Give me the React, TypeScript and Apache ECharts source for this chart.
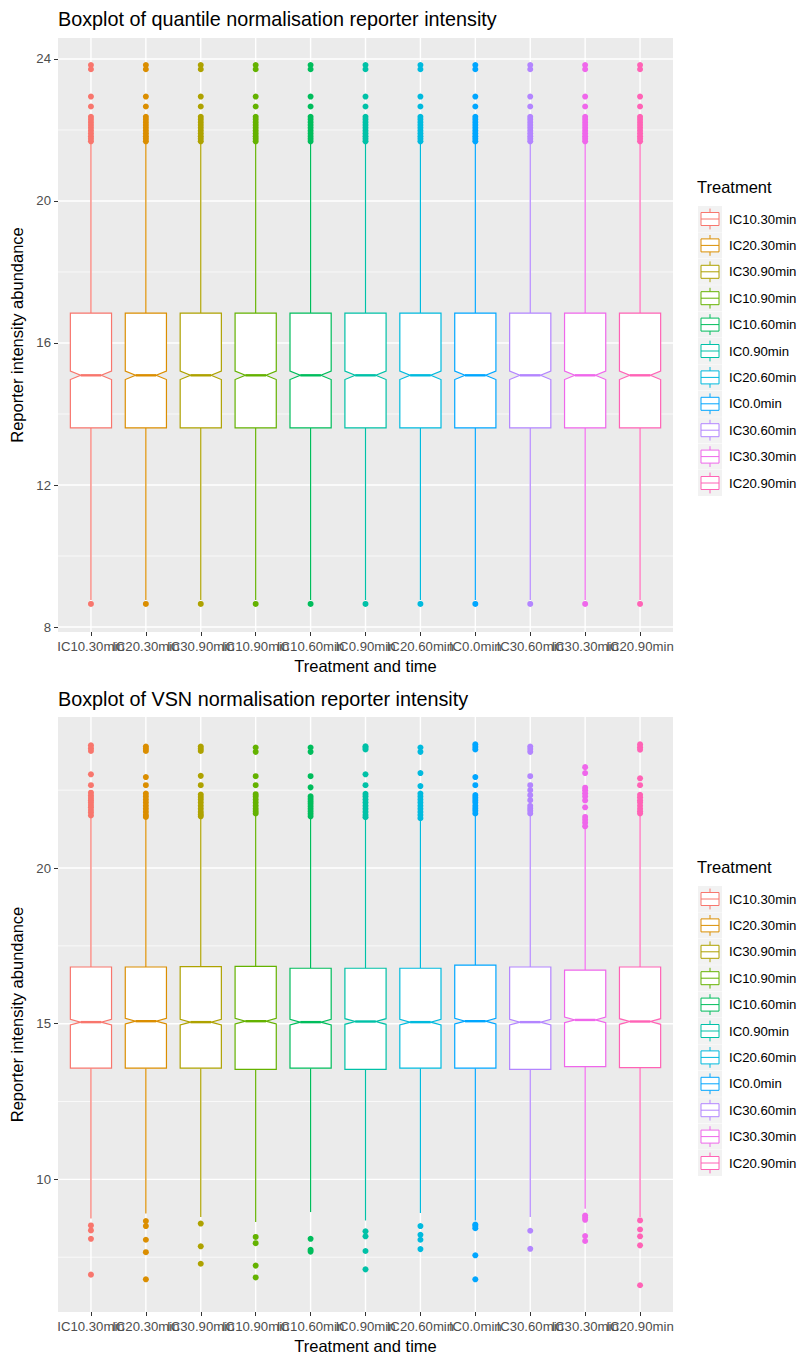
import React, { useEffect, useRef } from 'react';
import * as echarts from 'echarts';

const categories = ['IC10.30min', 'IC20.30min', 'IC30.90min', 'IC10.90min', 'IC10.60min', 'IC0.90min', 'IC20.60min', 'IC0.0min', 'IC30.60min', 'IC30.30min', 'IC20.90min'];
const colors = ['#F8766D', '#DB8E00', '#AEA200', '#64B200', '#00BD5C', '#00C1A7', '#00BADE', '#00A6FF', '#B385FF', '#EF67EB', '#FF63B6'];

// Quantile normalisation (top panel)
const qLowerWhisker = [8.76, 8.76, 8.76, 8.76, 8.76, 8.76, 8.76, 8.76, 8.76, 8.76, 8.76];
const qQ1 = [13.61, 13.61, 13.61, 13.61, 13.61, 13.61, 13.61, 13.61, 13.61, 13.61, 13.61];
const qMedian = [15.09, 15.09, 15.09, 15.09, 15.09, 15.09, 15.09, 15.09, 15.09, 15.09, 15.09];
const qQ3 = [16.84, 16.84, 16.84, 16.84, 16.84, 16.84, 16.84, 16.84, 16.84, 16.84, 16.84];
const qUpperWhisker = [21.66, 21.66, 21.66, 21.66, 21.66, 21.66, 21.66, 21.66, 21.66, 21.66, 21.66];
const qNotch = [0.12, 0.12, 0.12, 0.12, 0.12, 0.12, 0.12, 0.12, 0.12, 0.12, 0.12];
const qOutliers = [23.83, 23.71, 22.94, 22.66, 22.37, 22.3, 22.22, 22.14, 22.06, 21.98, 21.9, 21.82, 21.75, 21.68, 8.65];
const qYTicks = [8, 12, 16, 20, 24];
const qYMinor = [10, 14, 18, 22];

// VSN normalisation (bottom panel)
const vLowerWhisker = [8.74, 8.9, 8.79, 8.63, 8.95, 8.68, 8.92, 8.68, 8.79, 9.06, 8.79];
const vQ1 = [13.57, 13.57, 13.57, 13.53, 13.57, 13.53, 13.57, 13.57, 13.53, 13.62, 13.59];
const vMedian = [15.05, 15.08, 15.05, 15.08, 15.05, 15.07, 15.05, 15.08, 15.05, 15.12, 15.07];
const vQ3 = [16.82, 16.82, 16.83, 16.84, 16.78, 16.78, 16.78, 16.88, 16.82, 16.72, 16.82];
const vUpperWhisker = [21.65, 21.6, 21.62, 21.7, 21.62, 21.6, 21.57, 21.7, 21.7, 21.3, 21.7];
const vNotch = [0.09, 0.09, 0.09, 0.09, 0.09, 0.09, 0.09, 0.09, 0.09, 0.09, 0.09];
const vOutliers = [
  [23.94, 23.85, 23.76, 23.01, 22.66, 22.42, 22.33, 22.25, 22.18, 22.1, 22.02, 21.95, 21.86, 21.78, 21.69, 8.52, 8.36, 8.09, 6.94],
  [23.9, 23.83, 23.76, 22.92, 22.66, 22.39, 22.3, 22.2, 22.1, 22.0, 21.9, 21.8, 21.7, 21.64, 8.66, 8.5, 8.06, 7.66, 6.79],
  [23.9, 23.83, 23.76, 22.96, 22.66, 22.36, 22.28, 22.2, 22.1, 22.0, 21.9, 21.8, 21.72, 21.66, 8.58, 7.85, 7.29],
  [23.87, 23.73, 22.95, 22.66, 22.37, 22.3, 22.2, 22.1, 22.0, 21.9, 21.82, 21.75, 8.15, 7.95, 7.23, 6.85],
  [23.87, 23.73, 22.95, 22.59, 22.3, 22.22, 22.14, 22.06, 21.98, 21.9, 21.82, 21.74, 21.66, 8.09, 7.74, 7.68],
  [23.91, 23.86, 23.81, 23.01, 22.66, 22.38, 22.3, 22.2, 22.1, 22.0, 21.9, 21.8, 21.7, 21.63, 8.33, 8.17, 7.7, 7.11],
  [23.87, 23.73, 23.05, 22.63, 22.39, 22.3, 22.2, 22.1, 22.0, 21.9, 21.8, 21.7, 21.6, 8.5, 8.22, 8.06, 7.76],
  [23.97, 23.89, 23.81, 22.92, 22.66, 22.34, 22.26, 22.18, 22.1, 22.0, 21.92, 21.84, 21.75, 8.55, 8.5, 8.43, 7.56, 6.79],
  [23.9, 23.82, 23.73, 22.95, 22.66, 22.5, 22.34, 22.18, 22.0, 21.92, 21.84, 21.75, 8.35, 7.77],
  [23.24, 23.05, 22.58, 22.5, 22.4, 22.3, 22.17, 21.95, 21.64, 21.55, 21.45, 21.34, 8.84, 8.77, 8.7, 8.18, 8.02],
  [23.97, 23.88, 23.8, 22.88, 22.66, 22.35, 22.27, 22.18, 22.1, 22.0, 21.9, 21.82, 21.75, 8.68, 8.39, 8.17, 7.88, 6.6],
];
const vYTicks = [10, 15, 20];
const vYMinor = [7.5, 12.5, 17.5, 22.5];

const titles = ['Boxplot of quantile normalisation reporter intensity', 'Boxplot of VSN normalisation reporter intensity'];
const xTitle = 'Treatment and time';
const yTitle = 'Reporter intensity abundance';
const legendTitle = 'Treatment';

const FONT = 'Liberation Sans, Arial, sans-serif';

export default function App() {
  const ref = useRef<HTMLDivElement>(null);
  useEffect(() => {
    if (!ref.current) return;
    const chart = echarts.init(ref.current, undefined, { renderer: 'svg' });
    const xPos = categories.map((_, i) => i + 1);

    const panels = [
      { top: 38, height: 594, yMin: 7.86, yMax: 24.59, ticks: qYTicks, minor: qYMinor,
        low: qLowerWhisker, q1: qQ1, med: qMedian, q3: qQ3, high: qUpperWhisker, notch: qNotch,
        outliers: categories.map(() => qOutliers) },
      { top: 717, height: 595, yMin: 5.74, yMax: 24.85, ticks: vYTicks, minor: vYMinor,
        low: vLowerWhisker, q1: vQ1, med: vMedian, q3: vQ3, high: vUpperWhisker, notch: vNotch,
        outliers: vOutliers },
    ];

    const grid: any[] = [];
    const xAxis: any[] = [];
    const yAxis: any[] = [];
    const series: any[] = [];
    const title: any[] = [];
    const graphic: any[] = [];

    panels.forEach((p, gi) => {
      grid.push({ left: 58, top: p.top, width: 615, height: p.height, show: true, backgroundColor: '#EBEBEB', borderWidth: 0 });
      xAxis.push({
        gridIndex: gi, type: 'value', min: 0.4, max: 11.6,
        axisLine: { show: false, onZero: false },
        axisTick: { show: true, customValues: xPos, length: 4, lineStyle: { color: '#333333', width: 1 } },
        axisLabel: { show: false },
        splitLine: { show: false },
        name: xTitle, nameLocation: 'middle', nameGap: 25,
        nameTextStyle: { color: '#000', fontSize: 16.5, fontFamily: FONT },
      });
      yAxis.push({
        gridIndex: gi, type: 'value', min: p.yMin, max: p.yMax,
        axisLine: { show: false, onZero: false },
        axisTick: { show: true, customValues: p.ticks, length: 4, lineStyle: { color: '#333333', width: 1 } },
        axisLabel: { show: true, customValues: p.ticks, color: '#4D4D4D', fontSize: 13.2, fontFamily: FONT, margin: 7, showMinLabel: true, showMaxLabel: true },
        splitLine: { show: false },
        name: yTitle, nameLocation: 'middle', nameGap: 23, nameRotate: 90,
        nameTextStyle: { color: '#000', fontSize: 16.5, fontFamily: FONT },
      });

      // grid lines
      const gridData: any[] = [];
      p.ticks.forEach((t) => gridData.push([1, t, 0]));
      p.minor.forEach((t) => gridData.push([1, t, 1]));
      xPos.forEach((x) => gridData.push([x, p.ticks[0], 2]));
      series.push({
        type: 'custom', xAxisIndex: gi, yAxisIndex: gi, z: 1, silent: true,
        data: gridData,
        renderItem: (params: any, api: any) => {
          const cs = params.coordSys;
          const kind = api.value(2);
          if (kind === 2) {
            const x = api.coord([api.value(0), api.value(1)])[0];
            return { type: 'line', shape: { x1: x, y1: cs.y, x2: x, y2: cs.y + cs.height }, style: { stroke: '#FFFFFF', lineWidth: 1.4 } };
          }
          const y = api.coord([api.value(0), api.value(1)])[1];
          return { type: 'line', shape: { x1: cs.x, y1: y, x2: cs.x + cs.width, y2: y }, style: { stroke: '#FFFFFF', lineWidth: kind === 0 ? 1.4 : 0.7 } };
        },
      });

      // x tick labels (categories), placed with the x scale
      series.push({
        type: 'custom', xAxisIndex: gi, yAxisIndex: gi, z: 5, silent: true, clip: false,
        data: xPos.map((x) => [x, p.ticks[0]]),
        renderItem: (params: any, api: any) => {
          const cs = params.coordSys;
          const idx = api.value(0);
          const x = api.coord([idx, api.value(1)])[0];
          return {
            type: 'text', x, y: cs.y + cs.height + 8,
            style: { text: categories[idx - 1], fill: '#4D4D4D', fontSize: 13.2, fontFamily: FONT, align: 'center', verticalAlign: 'top' },
          };
        },
      });

      // outliers
      const outData: any[] = [];
      p.outliers.forEach((arr, i) => arr.forEach((v) => outData.push([i + 1, v, i])));
      series.push({
        type: 'scatter', xAxisIndex: gi, yAxisIndex: gi, z: 2, silent: true,
        symbol: 'circle', symbolSize: 6,
        data: outData,
        itemStyle: { color: (prm: any) => colors[prm.data[2]], opacity: 1 },
      });

      // boxes
      const boxData = categories.map((_, i) => [i + 1, p.low[i], p.q1[i], p.med[i], p.q3[i], p.high[i], p.notch[i]]);
      series.push({
        type: 'custom', xAxisIndex: gi, yAxisIndex: gi, z: 3, silent: true,
        data: boxData,
        encode: { x: 0, y: [1, 2, 3, 4, 5] },
        renderItem: (params: any, api: any) => {
          const idx = api.value(0);
          const color = colors[idx - 1];
          const med = api.value(3);
          const nh = api.value(6);
          const cx = api.coord([idx, med])[0];
          const yLow = api.coord([idx, api.value(1)])[1];
          const yQ1 = api.coord([idx, api.value(2)])[1];
          const yMed = api.coord([idx, med])[1];
          const yQ3 = api.coord([idx, api.value(4)])[1];
          const yHigh = api.coord([idx, api.value(5)])[1];
          const yNU = api.coord([idx, med + nh])[1];
          const yNL = api.coord([idx, med - nh])[1];
          const w = api.size([0.75, 0])[0];
          const xmin = cx - w / 2;
          const xmax = cx + w / 2;
          const ind = 0.25 * w;
          return {
            type: 'group',
            children: [
              { type: 'line', shape: { x1: cx, y1: yQ3, x2: cx, y2: yHigh }, style: { stroke: color, lineWidth: 1.2 } },
              { type: 'line', shape: { x1: cx, y1: yQ1, x2: cx, y2: yLow }, style: { stroke: color, lineWidth: 1.2 } },
              {
                type: 'polygon',
                shape: { points: [[xmin, yQ3], [xmin, yNU], [xmin + ind, yMed], [xmin, yNL], [xmin, yQ1], [xmax, yQ1], [xmax, yNL], [xmax - ind, yMed], [xmax, yNU], [xmax, yQ3]] },
                style: { fill: '#FFFFFF', stroke: color, lineWidth: 1.2 },
              },
              { type: 'line', shape: { x1: xmin + ind, y1: yMed, x2: xmax - ind, y2: yMed }, style: { stroke: color, lineWidth: 2.4 } },
            ],
          };
        },
      });

      const off = gi * 680;
      title.push({ text: titles[gi], left: 58, top: 9 + off, padding: 0, textStyle: { fontSize: 19.8, fontWeight: 'normal', color: '#000', fontFamily: FONT } });

      // legend
      graphic.push({ type: 'text', left: 697, top: 178 + off, style: { text: legendTitle, fontSize: 16.5, fill: '#000', fontFamily: FONT } });
      categories.forEach((c, i) => {
        const ky = 206 + off + i * 26.4;
        const kx = 698;
        const kw = 24;
        const kh = 26;
        graphic.push({
          type: 'group', x: kx, y: ky,
          children: [
            { type: 'rect', shape: { x: 0, y: 0, width: kw, height: kh }, style: { fill: '#F2F2F2' } },
            { type: 'line', shape: { x1: kw / 2, y1: kh * 0.1, x2: kw / 2, y2: kh * 0.25 }, style: { stroke: colors[i], lineWidth: 1 } },
            { type: 'line', shape: { x1: kw / 2, y1: kh * 0.75, x2: kw / 2, y2: kh * 0.9 }, style: { stroke: colors[i], lineWidth: 1 } },
            { type: 'rect', shape: { x: kw * 0.125, y: kh * 0.25, width: kw * 0.75, height: kh * 0.5 }, style: { fill: '#FFFFFF', stroke: colors[i], lineWidth: 1 } },
            { type: 'line', shape: { x1: kw * 0.125, y1: kh * 0.5, x2: kw * 0.875, y2: kh * 0.5 }, style: { stroke: colors[i], lineWidth: 1 } },
            { type: 'text', x: kw + 7, y: kh / 2, style: { text: c, fontSize: 13.2, fill: '#000', fontFamily: FONT, verticalAlign: 'middle' } },
          ],
        });
      });
    });

    chart.setOption({
      animation: false,
      backgroundColor: '#FFFFFF',
      title,
      grid,
      xAxis,
      yAxis,
      series,
      graphic,
    });
    return () => chart.dispose();
  }, []);
  return <div ref={ref} style={{ position: 'fixed', left: 0, top: 0, width: 807, height: 1358 }} />;
}
